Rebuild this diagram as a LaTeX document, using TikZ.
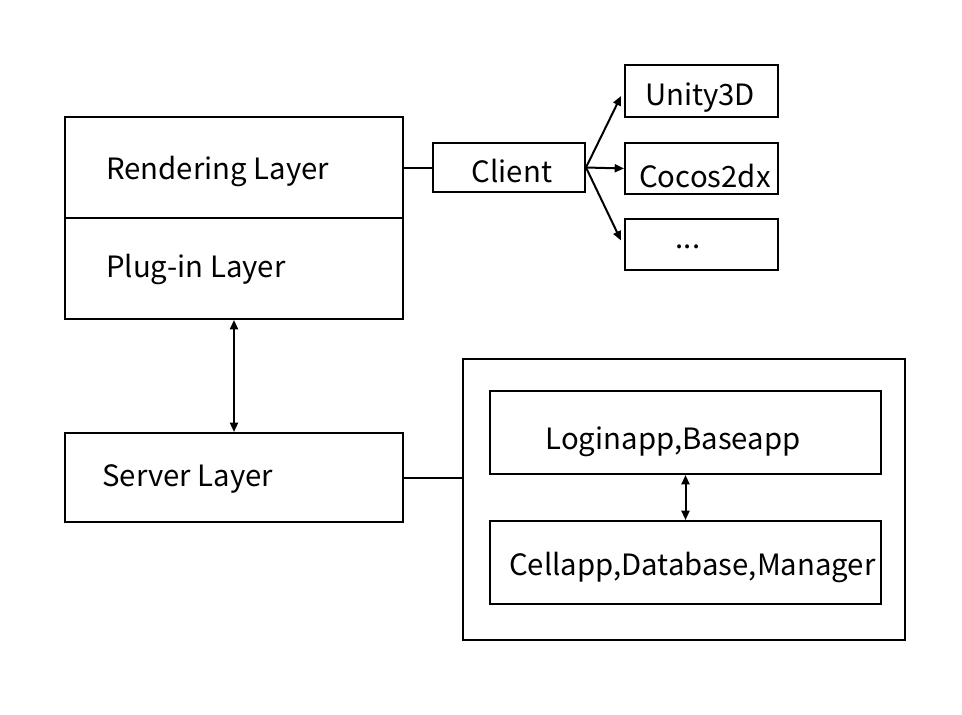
\documentclass[tikz,border=0pt]{standalone}
\usepackage{fontspec}
\setmainfont{Noto Sans CJK SC}
\usetikzlibrary{arrows.meta,fit}
\begin{document}
\begin{tikzpicture}[x=0.75pt,y=-0.75pt,
  box/.style={draw,line width=1.5pt,inner sep=0pt},
  lbl/.style={inner sep=0pt,font=\fontsize{22}{26}\selectfont},
  conn/.style={line width=1.5pt},
  arr/.style={conn,-{Triangle[length=7pt,width=6pt]}},
  darr/.style={conn,{Triangle[length=7pt,width=6pt]}-{Triangle[length=7pt,width=6pt]}}]
\useasboundingbox[fill=white] (0,0) rectangle (962,714);
\node[box,fit={(65,117) (403,218)}] (render) {};
\node[box,fit={(65,218) (403,319)}] (plugin) {};
\node[box,fit={(433,143) (585,192)}] (client) {};
\node[box,fit={(625,65) (778,117)}] (unity) {};
\node[box,fit={(625,143) (778,194)}] (cocos) {};
\node[box,fit={(625,219) (778,270)}] (dots) {};
\node[box,fit={(65,433) (403,522)}] (server) {};
\node[box,fit={(463,359) (905,640)}] (outer) {};
\node[box,fit={(490,391) (881,474)}] (login) {};
\node[box,fit={(490,521) (881,604)}] (cell) {};
\node[lbl,anchor=west] (trender) at (106,171) {Rendering Layer};
\node[lbl,anchor=west] (tplugin) at (106,269) {Plug-in Layer};
\node[lbl] (tclient) at (512,171) {Client};
\node[lbl] (tunity) at (700,98) {Unity3D};
\node[lbl,anchor=west] (tcocos) at (639,176) {Cocos2dx};
\node[lbl] (tdots) at (688,247) {...};
\node[lbl,anchor=west] (tserver) at (102,479) {Server Layer};
\node[lbl] (tlogin) at (673,442) {Loginapp,Baseapp};
\node[lbl,anchor=west] (tcell) at (509,567) {Cellapp,Database,Manager};
\draw[conn] (render.east) -- (client.west);
\draw[arr] (client.east) -- ([shift={(-3,5)}]unity.west);
\draw[arr] (client.east) -- (cocos.west);
\draw[arr] (client.east) -- ([shift={(-3,-4)}]dots.west);
\draw[darr] (plugin.south) -- (server.north);
\draw[conn] (server.east) -- (server.east -| outer.west);
\draw[darr] (login.south) -- (cell.north);
\end{tikzpicture}
\end{document}
